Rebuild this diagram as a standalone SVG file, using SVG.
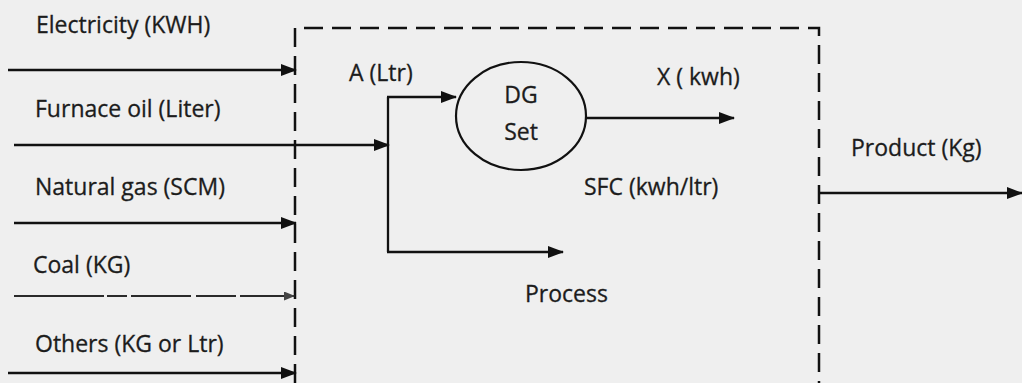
<svg xmlns="http://www.w3.org/2000/svg" width="1022" height="383" viewBox="0 0 1022 383">
<style>
.bg{fill:#efefef}
.t{font-family:"Open Sans","Liberation Sans",sans-serif;font-size:23px;fill:#1c1c1c;stroke:#1c1c1c;stroke-width:0.3}
.ln{stroke:#111;stroke-width:2.3;fill:none}
.bx{stroke:#111;stroke-width:2.5;fill:none;stroke-dasharray:19 9}
</style>
<defs>
<marker id="ah" viewBox="0 0 16 12" refX="15" refY="6" markerWidth="16" markerHeight="12" markerUnits="userSpaceOnUse" orient="auto">
<path d="M0,0 L16,6 L0,12 Z" fill="#111"/>
</marker>
<marker id="ahs" viewBox="0 0 11 9" refX="10" refY="4.5" markerWidth="11" markerHeight="9" markerUnits="userSpaceOnUse" orient="auto">
<path d="M0,0 L11,4.5 L0,9 Z" fill="#444"/>
</marker>
</defs>
<rect class="bg" x="0" y="0" width="1022" height="383"/>
<g id="boundary">
<path class="bx" d="M295,383 L295,28 L819,28 L819,383"/>
</g>
<g id="labels-inputs">
<text class="t" x="36" y="33">Electricity (KWH)</text>
<text class="t" x="35" y="117">Furnace oil (Liter)</text>
<text class="t" x="35" y="195">Natural gas (SCM)</text>
<text class="t" x="33" y="273">Coal (KG)</text>
<text class="t" x="35" y="352">Others (KG or Ltr)</text>
</g>
<g id="dg-set">
<ellipse cx="521" cy="116" rx="65" ry="54" fill="none" stroke="#111" stroke-width="2.2"/>
<text class="t" x="521" y="103" text-anchor="middle">DG</text>
<text class="t" x="521" y="140" text-anchor="middle">Set</text>
</g>
<g id="labels-inner">
<text class="t" x="349" y="81">A (Ltr)</text>
<text class="t" x="657" y="85">X ( kwh)</text>
<text class="t" x="584" y="195">SFC (kwh/ltr)</text>
<text class="t" x="525" y="302">Process</text>
<text class="t" x="851" y="156">Product (Kg)</text>
</g>
<g id="connectors">
<line class="ln" x1="8" y1="70" x2="296" y2="70" marker-end="url(#ah)"/>
<line class="ln" x1="14" y1="145" x2="389" y2="145" marker-end="url(#ah)"/>
<line class="ln" x1="14" y1="223" x2="296" y2="223" marker-end="url(#ah)"/>
<line x1="14" y1="296" x2="294" y2="296" stroke="#2a2a2a" stroke-width="1.8" stroke-dasharray="90 3 20 4 60 5 40 4" marker-end="url(#ahs)"/>
<line class="ln" x1="8" y1="373" x2="296" y2="373" marker-end="url(#ah)"/>
<path class="ln" d="M388,97 L388,252"/>
<line class="ln" x1="387" y1="97" x2="456" y2="97" marker-end="url(#ah)"/>
<line class="ln" x1="387" y1="252" x2="563" y2="252" marker-end="url(#ah)"/>
<line class="ln" x1="586" y1="118" x2="734" y2="118" marker-end="url(#ah)"/>
<line class="ln" x1="819" y1="193" x2="1022" y2="193" marker-end="url(#ah)"/>
</g>
</svg>
